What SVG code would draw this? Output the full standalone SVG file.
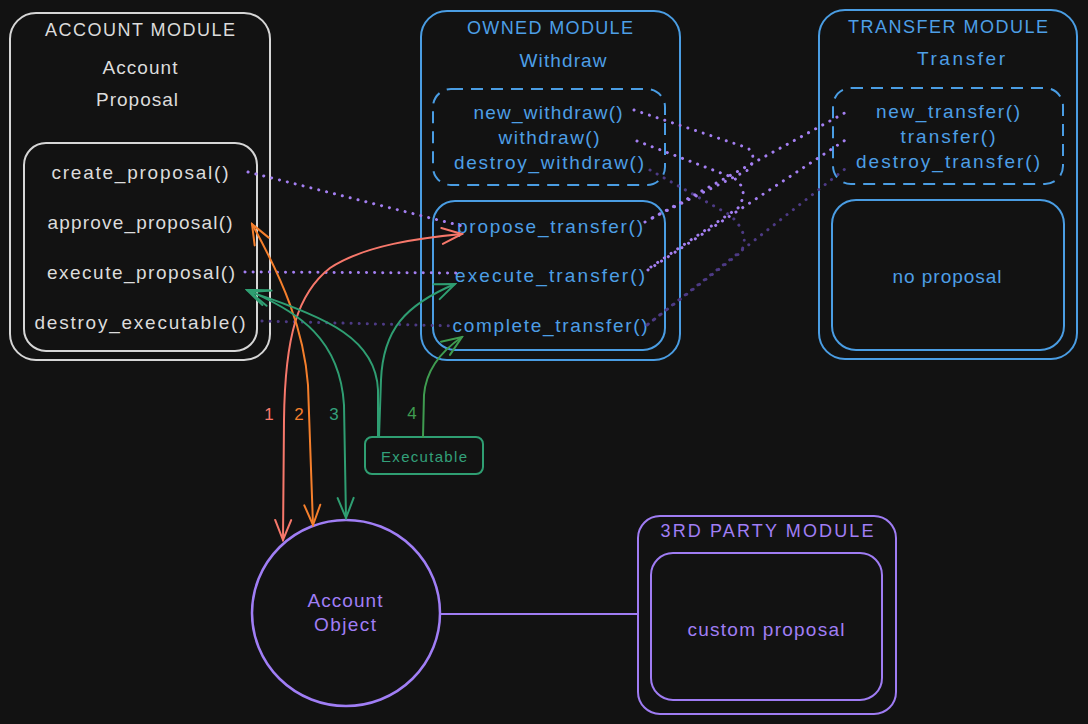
<svg xmlns="http://www.w3.org/2000/svg" width="1088" height="724" viewBox="0 0 1088 724">
<defs>
<style>
.t{font-family:"Liberation Sans",Arial,sans-serif;font-size:19px;text-anchor:middle;dominant-baseline:central}
.ttl{font-size:18px}
.sm{font-size:15px}
.lbl{font-size:17px}
.gray{fill:#dcdcdc}
.blue{fill:#4d9fe6}
.purp{fill:#a07ef5}
.grn{fill:#33a07a}
.box{fill:none;stroke-width:2}
.bgray{stroke:#d6d6d6}
.bblue{stroke:#4a9de3}
.bpurp{stroke:#9f7cf3}
.dash{stroke-dasharray:12 8}
.dot{fill:none;stroke-width:3;stroke-linecap:round;stroke-dasharray:0.1 8}
.dl{stroke:#a47ff2}
.dd{stroke:#4d3a85}
.arr{fill:none;stroke-width:2;stroke-linecap:round}
</style>
<marker id="mRed" viewBox="-22 -11 24 22" refX="0" refY="0" markerWidth="24" markerHeight="22" markerUnits="userSpaceOnUse" orient="auto-start-reverse"><path d="M-20,-8 L0,0 L-20,8" fill="none" stroke="#f7786b" stroke-width="2" stroke-linecap="round"/></marker>
<marker id="mOr" viewBox="-22 -11 24 22" refX="0" refY="0" markerWidth="24" markerHeight="22" markerUnits="userSpaceOnUse" orient="auto-start-reverse"><path d="M-20,-8 L0,0 L-20,8" fill="none" stroke="#f57f2c" stroke-width="2" stroke-linecap="round"/></marker>
<marker id="mGr" viewBox="-22 -11 24 22" refX="0" refY="0" markerWidth="24" markerHeight="22" markerUnits="userSpaceOnUse" orient="auto-start-reverse"><path d="M-20,-8 L0,0 L-20,8" fill="none" stroke="#2f9e72" stroke-width="2" stroke-linecap="round"/></marker>
<marker id="mGr4" viewBox="-22 -11 24 22" refX="0" refY="0" markerWidth="24" markerHeight="22" markerUnits="userSpaceOnUse" orient="auto-start-reverse"><path d="M-20,-8 L0,0 L-20,8" fill="none" stroke="#3f9c50" stroke-width="2" stroke-linecap="round"/></marker>
</defs>
<rect x="0" y="0" width="1088" height="724" fill="#121212"/>

<g id="account-module">
<rect class="box bgray" x="10" y="13" width="260" height="347" rx="26"/>
<text class="t ttl gray" x="140" y="30" textLength="190" lengthAdjust="spacing">ACCOUNT MODULE</text>
<text class="t gray" x="140" y="67" textLength="75" lengthAdjust="spacing">Account</text>
<text class="t gray" x="137" y="99" textLength="82" lengthAdjust="spacing">Proposal</text>
<rect class="box bgray" x="24" y="143" width="233" height="208" rx="22"/>
<text class="t gray" x="140" y="172" textLength="177" lengthAdjust="spacing">create_proposal()</text>
<text class="t gray" x="140" y="222" textLength="185" lengthAdjust="spacing">approve_proposal()</text>
<text class="t gray" x="141" y="272" textLength="188" lengthAdjust="spacing">execute_proposal()</text>
<text class="t gray" x="140" y="322" textLength="211" lengthAdjust="spacing">destroy_executable()</text>
</g>

<g id="owned-module">
<rect class="box bblue" x="421" y="11" width="259" height="349" rx="26"/>
<text class="t ttl blue" x="550" y="28" textLength="166" lengthAdjust="spacing">OWNED MODULE</text>
<text class="t blue" x="563" y="60" textLength="87" lengthAdjust="spacing">Withdraw</text>
<rect class="box bblue dash" x="433" y="89" width="232" height="96" rx="18"/>
<text class="t blue" x="548" y="112" textLength="149" lengthAdjust="spacing">new_withdraw()</text>
<text class="t blue" x="549" y="137" textLength="101" lengthAdjust="spacing">withdraw()</text>
<text class="t blue" x="549" y="162" textLength="190" lengthAdjust="spacing">destroy_withdraw()</text>
<rect class="box bblue" x="433" y="201" width="232" height="149" rx="22"/>
<text class="t blue" x="550" y="226" textLength="186" lengthAdjust="spacing">propose_transfer()</text>
<text class="t blue" x="550" y="275" textLength="190" lengthAdjust="spacing">execute_transfer()</text>
<text class="t blue" x="550" y="325" textLength="195" lengthAdjust="spacing">complete_transfer()</text>
</g>

<g id="transfer-module">
<rect class="box bblue" x="819" y="10" width="258" height="349" rx="26"/>
<text class="t ttl blue" x="948" y="27" textLength="200" lengthAdjust="spacing">TRANSFER MODULE</text>
<text class="t blue" x="961" y="58" textLength="88" lengthAdjust="spacing">Transfer</text>
<rect class="box bblue dash" x="833" y="88" width="230" height="96" rx="18"/>
<text class="t blue" x="948" y="111" textLength="144" lengthAdjust="spacing">new_transfer()</text>
<text class="t blue" x="948" y="136" textLength="95" lengthAdjust="spacing">transfer()</text>
<text class="t blue" x="948" y="161" textLength="184" lengthAdjust="spacing">destroy_transfer()</text>
<rect class="box bblue" x="832" y="200" width="232" height="150" rx="24"/>
<text class="t blue" x="947" y="276" textLength="109" lengthAdjust="spacing">no proposal</text>
</g>

<g id="third-party-module">
<rect class="box bpurp" x="638" y="516" width="258" height="198" rx="22"/>
<text class="t ttl purp" x="767" y="531" textLength="213" lengthAdjust="spacing">3RD PARTY MODULE</text>
<rect class="box bpurp" x="651" y="553" width="231" height="147" rx="22"/>
<text class="t purp" x="766" y="629" textLength="157" lengthAdjust="spacing">custom proposal</text>
</g>

<g id="account-object">
<ellipse cx="346" cy="613" rx="94" ry="93" fill="none" stroke="#a07ef5" stroke-width="2.5"/>
<text class="t purp" x="345" y="600" textLength="75" lengthAdjust="spacing">Account</text>
<text class="t purp" x="345" y="624" textLength="62" lengthAdjust="spacing">Object</text>
</g>

<g id="executable">
<rect x="365" y="437" width="118" height="37" rx="7" fill="none" stroke="#2f9e72" stroke-width="2"/>
<text class="t sm grn" x="424" y="456" textLength="86" lengthAdjust="spacing">Executable</text>
</g>

<g id="connectors">
<path class="dot dl" d="M248,172 L462,226"/>
<path class="dot dl" d="M245,272 L460,273"/>
<path class="dot dd" d="M262,321 L455,326"/>
<path class="dot dl" d="M634,110 L748,148 Q758,158 748,170 L648,220"/>
<path class="dot dl" d="M637,141 L734,178 Q750,190 738,208 L648,269"/>
<path class="dot dd" d="M650,170 L730,215 Q752,236 740,253 L647,325"/>
<path class="dot dl" d="M645,222 L850,110"/>
<path class="dot dl" d="M648,270 L850,137"/>
<path class="dot dd" d="M647,325 L850,165"/>
<line x1="441" y1="614" x2="638" y2="614" stroke="#9f7cf3" stroke-width="2"/>
<path class="arr" stroke="#f7786b" marker-start="url(#mRed)" marker-end="url(#mRed)" d="M283,540 L284,420 C285,335 298,293 330,268 C365,245 420,238 462,234"/>
<path class="arr" stroke="#f57f2c" marker-start="url(#mOr)" marker-end="url(#mOr)" d="M252,224 C283,280 304,330 308,385 L313,525"/>
<path class="arr" stroke="#2f9e72" marker-start="url(#mGr)" marker-end="url(#mGr)" d="M247,290 C300,312 340,340 344,405 L346,518"/>
<path class="arr" stroke="#2f9e72" marker-end="url(#mGr)" d="M378,437 L378,390 C376,340 330,318 250,292"/>
<path class="arr" stroke="#2f9e72" marker-end="url(#mGr)" d="M379,437 L381,380 C383,330 405,305 455,284"/>
<path class="arr" stroke="#3f9c50" marker-end="url(#mGr4)" d="M423,437 L424,395 C426,370 440,352 462,337"/>
<text class="t lbl" x="269" y="414" fill="#f7786b">1</text>
<text class="t lbl" x="299" y="414" fill="#f57f2c">2</text>
<text class="t lbl" x="334" y="414" fill="#33a07a">3</text>
<text class="t lbl" x="412" y="413" fill="#3f9c50">4</text>
</g>
</svg>
